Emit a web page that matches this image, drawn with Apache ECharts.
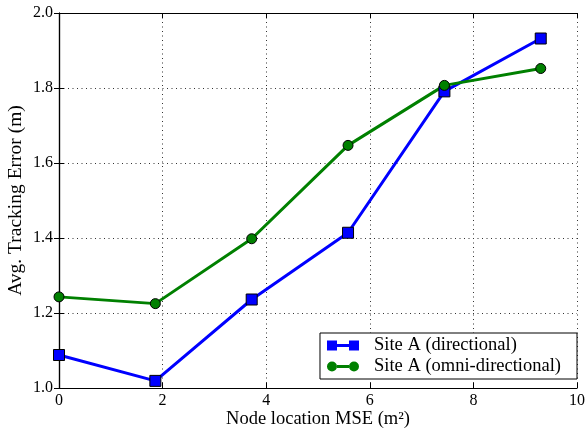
<!DOCTYPE html>
<html>
<head>
<meta charset="utf-8">
<script src="https://cdn.jsdelivr.net/npm/echarts@6/dist/echarts.min.js"></script>
<style>
  html, body { margin: 0; padding: 0; background: #fff; }
  #chart { width: 587px; height: 434px; }
</style>
</head>
<body>
<div id="chart"></div>
<script>
// node location MSE (m^2)
var mse = [0, 1.86, 3.72, 5.58, 7.44, 9.3]
// avg tracking error (m)
var directional = [1.088, 1.019, 1.236, 1.414, 1.791, 1.932]
var omni = [1.243, 1.225, 1.398, 1.647, 1.807, 1.852]
var seriesNames = ['Site A (directional)', 'Site A (omni-directional)']

var font = 'Liberation Serif'
// legend icons: marker - line - marker, like the original
var squareIcon = 'path://M0,0H10V10H0Z M22,0H32V10H22Z M10,3.6H22V6.4H10Z'
var circleIcon = 'path://M0,5A5,5 0 1,1 10,5A5,5 0 1,1 0,5Z M22,5A5,5 0 1,1 32,5A5,5 0 1,1 22,5Z M10,3.6H22V6.4H10Z'

function pairs (xs, ys) {
  return xs.map(function (x, i) { return [x, ys[i]] })
}

var axisFont = { fontFamily: font, fontSize: 16, color: '#000' }
var titleFont = { fontFamily: font, fontSize: 18.5, color: '#000' }
var gridDots = { show: true, lineStyle: { color: '#333', type: [1, 3.5], width: 1 } }
var frameLine = { show: true, lineStyle: { color: '#000', width: 1.2 } }
var inTick = { show: true, inside: true, length: 5, lineStyle: { color: '#000' } }

var chart = echarts.init(document.getElementById('chart'))
chart.setOption({
  animation: false,
  textStyle: { fontFamily: font },
  grid: { left: 59, right: 10, top: 13, bottom: 46, outerBoundsMode: 'none' },
  legend: {
    right: 10,
    bottom: 55,
    orient: 'vertical',
    data: [
      { name: seriesNames[0], icon: squareIcon },
      { name: seriesNames[1], icon: circleIcon }
    ],
    backgroundColor: '#fff',
    borderColor: '#000',
    borderWidth: 1,
    borderRadius: 0,
    padding: [3, 16, 3, 7],
    itemGap: 2,
    itemWidth: 32,
    itemHeight: 11,
    itemStyle: { borderWidth: 0 },
    textStyle: { fontFamily: font, fontSize: 18.5, color: '#000', padding: [0, 0, 0, 10] }
  },
  xAxis: [{
    type: 'value',
    min: 0,
    max: 10,
    interval: 2,
    name: 'Node location MSE (m²)',
    nameLocation: 'middle',
    nameGap: 22,
    nameMoveOverlap: false,
    nameTextStyle: titleFont,
    axisLine: frameLine,
    axisTick: inTick,
    axisLabel: Object.assign({ margin: 5 }, axisFont),
    splitLine: gridDots
  }, {
    type: 'value',
    position: 'top',
    min: 0,
    max: 10,
    interval: 2,
    axisLine: frameLine,
    axisTick: inTick,
    axisLabel: { show: false },
    splitLine: { show: false }
  }],
  yAxis: [{
    type: 'value',
    min: 1.0,
    max: 2.0,
    interval: 0.2,
    name: 'Avg. Tracking Error (m)',
    nameLocation: 'middle',
    nameGap: 33,
    nameMoveOverlap: false,
    nameTextStyle: Object.assign({}, titleFont, { fontSize: 19.5 }),
    axisLine: frameLine,
    axisTick: inTick,
    axisLabel: Object.assign({ margin: 6, formatter: function (v) { return v.toFixed(1) } }, axisFont),
    splitLine: gridDots
  }, {
    type: 'value',
    position: 'right',
    min: 1.0,
    max: 2.0,
    interval: 0.2,
    axisLine: frameLine,
    axisTick: inTick,
    axisLabel: { show: false },
    splitLine: { show: false }
  }],
  series: [
    {
      name: seriesNames[0],
      type: 'line',
      data: pairs(mse, directional),
      symbol: 'rect',
      symbolSize: 11,
      lineStyle: { color: '#0000ff', width: 3 },
      itemStyle: { color: '#0000ff', borderColor: '#000', borderWidth: 1 },
      z: 3
    },
    {
      name: seriesNames[1],
      type: 'line',
      data: pairs(mse, omni),
      symbol: 'circle',
      symbolSize: 10,
      lineStyle: { color: '#008000', width: 3 },
      itemStyle: { color: '#008000', borderColor: '#000', borderWidth: 1 },
      z: 3
    }
  ]
})
</script>
</body>
</html>
